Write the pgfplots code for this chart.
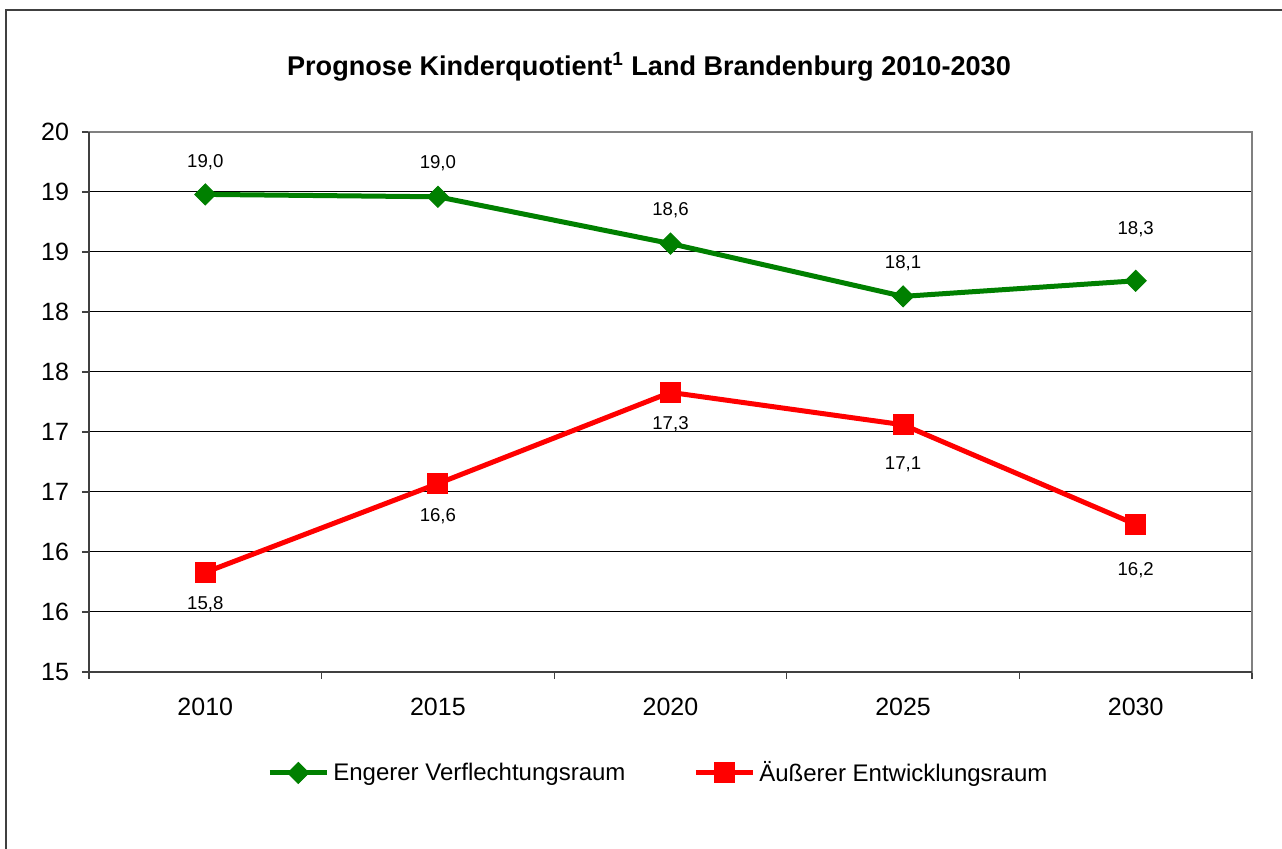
\documentclass[border=0pt]{standalone}
\usepackage{pgfplots}
\pgfplotsset{compat=1.18}
\usepackage{fontspec}
\setmainfont{Liberation Sans}
\definecolor{evgreen}{HTML}{008000}
\definecolor{aered}{HTML}{FF0000}
\definecolor{framegray}{HTML}{404040}
\begin{document}
\begin{tikzpicture}
\useasboundingbox (0,0) rectangle (641pt,424.5pt);
% outer chart frame (right and bottom edge lie outside the picture)
\draw[line width=1pt, framegray] (3pt,-20pt) -- (3pt,419.5pt) -- (700pt,419.5pt);
\node[font=\bfseries\fontsize{13.55}{15}\selectfont] at (324.5pt,391pt)
  {Prognose Kinderquotient\textsuperscript{1} Land Brandenburg 2010-2030};
\begin{axis}[
    at={(44.5pt,88.5pt)}, anchor=south west,
    scale only axis,
    width=581.5pt, height=270pt,
    xmin=-0.5, xmax=4.5,
    ymin=15, ymax=19.5,
    clip=false,
    axis line style={gray, line width=1pt},
    xtick={0,1,2,3,4},
    xticklabels={2010,2015,2020,2025,2030},
    minor xtick={-0.5,0.5,1.5,2.5,3.5,4.5},
    major x tick style={draw=none},
    minor x tick style={framegray, line width=0.6pt},
    ytick={15,15.5,16,16.5,17,17.5,18,18.5,19,19.5},
    yticklabels={15,16,16,17,17,18,18,19,19,20},
    y tick style={framegray, line width=0.6pt},
    tick align=outside,
    major tick length=3.5pt, minor tick length=3.5pt,
    xtick pos=bottom, ytick pos=left,
    ymajorgrids=true,
    grid style={black, line width=0.5pt},
    tick label style={font=\fontsize{12.5}{14}\selectfont},
    xticklabel style={yshift=-6pt},
    yticklabel style={xshift=-3pt},
    /pgf/number format/assume math mode=true,
    visualization depends on={\thisrow{dy} \as \labdy},
    nodes near coords,
    nodes near coords style={font=\fontsize{9.3}{11}\selectfont, black,
        anchor=center, yshift=\labdy pt},
    /pgf/number format/.cd, fixed, fixed zerofill, precision=1, use comma,
    /pgfplots/.cd,
    legend columns=2,
    legend style={draw=none, fill=none, at={(0.4905,-0.187)}, anchor=center,
        font=\fontsize{12}{13}\selectfont,
        /tikz/every even column/.append style={column sep=32pt}},
    legend image code/.code={
        \draw[mark repeat=2, mark phase=2, #1]
            plot coordinates {(0cm,0cm) (0.5cm,0cm) (1cm,0cm)};},
]
\addplot[evgreen, line width=2.5pt, mark=square*, mark size=3.7pt,
    mark options={rotate=45, line width=0.5pt}]
table[x=x, y=y] {
x y     dy
0 18.98 16
1 18.96 17
2 18.57 16.5
3 18.13 16.5
4 18.26 26
};
\addlegendentry{Engerer Verflechtungsraum}
\addplot[aered, line width=2.5pt, mark=square*, mark size=5pt,
    mark options={line width=0.5pt}]
table[x=x, y=y] {
x y     dy
0 15.83 -16
1 16.57 -16.5
2 17.33 -16
3 17.06 -20
4 16.23 -23
};
\addlegendentry{Äußerer Entwicklungsraum}
\draw[framegray, line width=1pt] (rel axis cs:0,1) -- (rel axis cs:0,0) -- (rel axis cs:1,0);
\end{axis}
\end{tikzpicture}
\end{document}
